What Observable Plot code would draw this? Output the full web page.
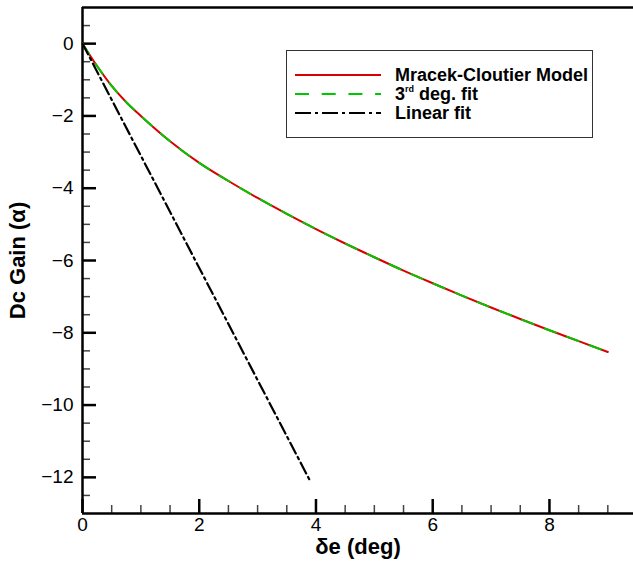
<!DOCTYPE html>
<html><head><meta charset="utf-8">
<script src="https://cdn.jsdelivr.net/npm/d3@7"></script>
<script src="https://cdn.jsdelivr.net/npm/@observablehq/plot@0.6"></script>
<style>
body{margin:0;background:#fff;}
#wrap{position:relative;width:633px;height:563px;font-family:"Liberation Sans",Arial,sans-serif;}
#legend{position:absolute;left:286px;top:50px;width:307px;height:88px;border:1px solid #333;background:#fff;box-sizing:border-box;}
.row{position:absolute;left:8px;height:20px;display:flex;align-items:center;font-weight:bold;font-size:18px;color:#000;white-space:nowrap;}
.row svg{width:86px;height:6px;margin-right:14px;display:block;}
sup{font-size:9px;position:relative;top:1px;vertical-align:top;line-height:9px;}
</style></head><body><div id="wrap"></div>
<script>
// ---- data ----
const xModel = [0, 0.25, 0.5, 0.75, 1, 1.5, 2, 2.5, 3, 3.5, 4, 4.5, 5, 5.5, 6, 6.5, 7, 7.5, 8, 8.5, 9];
const yModel = [0, -0.62, -1.17, -1.62, -2.0, -2.7, -3.3, -3.8, -4.27, -4.71, -5.13, -5.53, -5.91, -6.28, -6.63, -6.97, -7.3, -7.62, -7.93, -8.23, -8.53];
const xFit3 = [0, 0.25, 0.5, 0.75, 1, 1.5, 2, 2.5, 3, 3.5, 4, 4.5, 5, 5.5, 6, 6.5, 7, 7.5, 8, 8.5, 9];
const yFit3 = [0, -0.62, -1.17, -1.62, -2.0, -2.7, -3.3, -3.8, -4.27, -4.71, -5.13, -5.53, -5.91, -6.28, -6.63, -6.97, -7.3, -7.62, -7.93, -8.23, -8.53];
const xLinear = [0, 3.9];
const yLinear = [0, -12.1];
const seriesNames = ["Mracek-Cloutier Model", "3rd deg. fit", "Linear fit"];
const xMajor = [0, 2, 4, 6, 8];
const xMinor = [0.5, 1, 1.5, 2.5, 3, 3.5, 4.5, 5, 5.5, 6.5, 7, 7.5, 8.5, 9];
const yMajor = [0, -2, -4, -6, -8, -10, -12];
const yMinor = [0.5, -0.5, -1, -1.5, -2.5, -3, -3.5, -4.5, -5, -5.5, -6.5, -7, -7.5, -8.5, -9, -9.5, -10.5, -11, -11.5, -12.5];
const xLabel = "δe (deg)";
const yLabel = "Dc Gain (α)";

const model = xModel.map((x, i) => ({x, y: yModel[i]}));
const fit3 = xFit3.map((x, i) => ({x, y: yFit3[i]}));
const linear = xLinear.map((x, i) => ({x, y: yLinear[i]}));

const RED = "#d80000", GREEN = "#00c800", BLACK = "#000";

const chart = Plot.plot({
  width: 633, height: 563,
  marginLeft: 82, marginRight: 0, marginTop: 7, marginBottom: 50,
  x: {domain: [0, 9.44]},
  y: {domain: [-13, 1]},
  style: {fontFamily: "Liberation Sans, Arial, sans-serif", fontSize: "19px", color: "#000", background: "#fff"},
  marks: [
    Plot.axisY(yMinor, {tickSize: -8, text: null, stroke: "#444", strokeWidth: 1.5, label: null}),
    Plot.axisY(yMajor, {tickSize: -14, text: null, stroke: "#000", strokeWidth: 2.5, label: null}),
    Plot.axisY(yMajor, {tickSize: 0, tickPadding: 9, fontSize: 19, label: null}),
    Plot.axisX(xMinor, {tickSize: -8, text: null, stroke: "#444", strokeWidth: 1.5, label: null}),
    Plot.axisX(xMajor, {tickSize: -14, text: null, stroke: "#000", strokeWidth: 2.5, label: null}),
    Plot.axisX(xMajor, {tickSize: 0, tickPadding: 4, fontSize: 19, label: null}),
    Plot.ruleX([0], {stroke: "#000", strokeWidth: 2.5}),
    Plot.ruleY([-13], {stroke: "#000", strokeWidth: 2.5}),
    Plot.ruleY([1], {stroke: "#000", strokeWidth: 2.5}),
    Plot.line(model, {x: "x", y: "y", stroke: RED, strokeWidth: 2, curve: "monotone-x"}),
    Plot.line(fit3, {x: "x", y: "y", stroke: GREEN, strokeWidth: 2, strokeDasharray: "12,12", curve: "monotone-x"}),
    Plot.line(linear, {x: "x", y: "y", stroke: BLACK, strokeWidth: 2.2, strokeDasharray: "12,4,2.5,4"}),
    Plot.text([xLabel], {text: d => d, frameAnchor: "bottom", dy: 33, fontWeight: "bold", fontSize: 22, lineAnchor: "middle", textAnchor: "middle"}),
    Plot.text([yLabel], {text: d => d, frameAnchor: "left", dx: -64.5, rotate: -90, fontWeight: "bold", fontSize: 22, lineAnchor: "middle", textAnchor: "middle"})
  ]
});
const wrap = document.getElementById("wrap");
wrap.appendChild(chart);

// legend
const legend = document.createElement("div");
legend.id = "legend";
wrap.appendChild(legend);
const styles = [
  {stroke: RED, dash: null},
  {stroke: GREEN, dash: "14,12.7"},
  {stroke: BLACK, dash: "16,4,3,4"}
];
const tops = [14, 33, 52];
seriesNames.forEach((name, i) => {
  const row = document.createElement("div");
  row.className = "row";
  row.style.top = tops[i] + "px";
  const s = styles[i];
  row.innerHTML = `<svg viewBox="0 0 86 6"><line x1="0" x2="86" y1="3" y2="3" stroke="${s.stroke}" stroke-width="2.2" ${s.dash ? `stroke-dasharray="${s.dash}"` : ""}/></svg>` +
    `<span>${name.replace(/^3rd/, "3<sup>rd</sup>")}</span>`;
  legend.appendChild(row);
});
</script>
</body></html>
